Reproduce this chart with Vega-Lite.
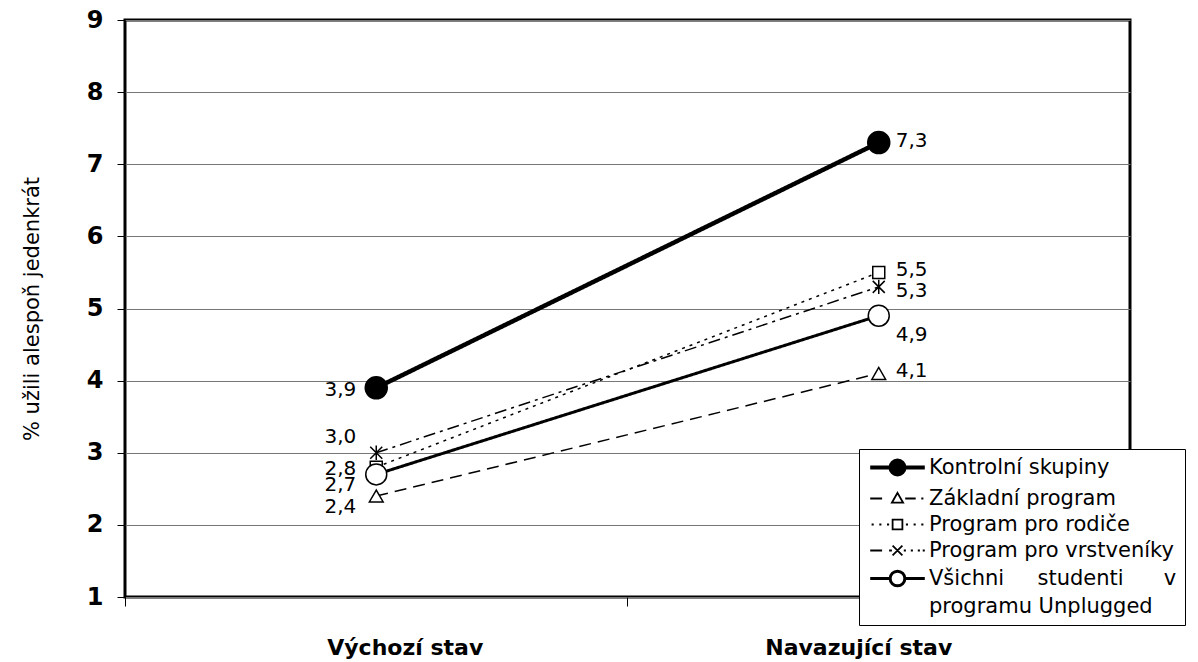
{
  "$schema": "https://vega.github.io/schema/vega-lite/v6.json",
  "width": 1005,
  "height": 577,
  "autosize": {"type": "none"},
  "padding": {"left": 125, "top": 20, "right": 68, "bottom": 65},
  "background": "white",
  "config": {
    "font": "DejaVu Sans",
    "locale": {"number": {"decimal": ",", "thousands": " ", "grouping": [3], "currency": ["", " Kč"]}},
    "view": {"stroke": "black", "strokeWidth": 3}
  },
  "data": {
    "values": [
      {"stav": "Výchozí stav", "skupina": "Kontrolní skupiny", "hodnota": 3.9},
      {"stav": "Navazující stav", "skupina": "Kontrolní skupiny", "hodnota": 7.3},
      {"stav": "Výchozí stav", "skupina": "Základní program", "hodnota": 2.4},
      {"stav": "Navazující stav", "skupina": "Základní program", "hodnota": 4.1},
      {"stav": "Výchozí stav", "skupina": "Program pro rodiče", "hodnota": 2.8},
      {"stav": "Navazující stav", "skupina": "Program pro rodiče", "hodnota": 5.5},
      {"stav": "Výchozí stav", "skupina": "Program pro vrstveníky", "hodnota": 3.0},
      {"stav": "Navazující stav", "skupina": "Program pro vrstveníky", "hodnota": 5.3},
      {"stav": "Výchozí stav", "skupina": "Všichni studenti v programu Unplugged", "hodnota": 2.7},
      {"stav": "Navazující stav", "skupina": "Všichni studenti v programu Unplugged", "hodnota": 4.9}
    ]
  },
  "encoding": {
    "x": {
      "field": "stav",
      "type": "nominal",
      "sort": ["Výchozí stav", "Navazující stav"],
      "scale": {"type": "band", "paddingInner": 0, "paddingOuter": 0},
      "axis": {
        "title": null,
        "labelAngle": 0,
        "bandPosition": 0,
        "domain": false,
        "grid": false,
        "ticks": true,
        "tickSize": 9,
        "tickColor": "black",
        "tickWidth": 1,
        "labelPadding": 31,
        "labelFontSize": 22,
        "labelFontWeight": "bold",
        "labelColor": "black",
        "labelLimit": 400,
        "labelOffset": {"condition": {"test": "datum.value == 'Výchozí stav'", "value": 29}, "value": -20}
      }
    },
    "y": {
      "field": "hodnota",
      "type": "quantitative",
      "scale": {"domain": [1, 9], "nice": false, "zero": false},
      "axis": {
        "values": [1, 2, 3, 4, 5, 6, 7, 8, 9],
        "title": "% užili alespoň jedenkrát",
        "titleFontSize": 21,
        "titleFontWeight": "normal",
        "titleColor": "black",
        "titlePadding": 44,
        "domain": false,
        "grid": true,
        "gridColor": "#777777",
        "gridWidth": 1,
        "tickSize": 8,
        "tickColor": "black",
        "tickWidth": 1,
        "labelFontSize": 24,
        "labelFontWeight": "bold",
        "labelColor": "black",
        "labelPadding": 14
      }
    }
  },
  "resolve": {"scale": {"shape": "independent"}, "legend": {"shape": "independent"}},
  "layer": [
    {
      "mark": {"type": "line", "color": "black"},
      "encoding": {
        "detail": {"field": "skupina", "type": "nominal"},
        "strokeDash": {
          "condition": [
            {"test": "datum.skupina == 'Základní program'", "value": [12, 7]},
            {"test": "datum.skupina == 'Program pro rodiče'", "value": [3, 5]},
            {"test": "datum.skupina == 'Program pro vrstveníky'", "value": [12, 5, 3, 5]}
          ],
          "value": [1, 0]
        },
        "strokeWidth": {
          "condition": [
            {"test": "datum.skupina == 'Kontrolní skupiny'", "value": 4.5},
            {"test": "datum.skupina == 'Všichni studenti v programu Unplugged'", "value": 3}
          ],
          "value": 1.5
        }
      }
    },
    {
      "mark": {"type": "point", "stroke": "black", "strokeWidth": 1.5, "opacity": 1},
      "encoding": {
        "shape": {
          "field": "skupina",
          "type": "nominal",
          "scale": {
            "domain": ["Kontrolní skupiny", "Základní program", "Program pro rodiče", "Program pro vrstveníky", "Všichni studenti v programu Unplugged"],
            "range": ["circle", "triangle-up", "square", "M-1,-1L1,1M-1,1L1,-1M0,-1.2V1.2", "circle"]
          },
          "legend": null
        },
        "fill": {
          "condition": {"test": "datum.skupina == 'Kontrolní skupiny'", "value": "black"},
          "value": "white"
        },
        "size": {
          "condition": [
            {"test": "datum.skupina == 'Kontrolní skupiny'", "value": 484},
            {"test": "datum.skupina == 'Všichni studenti v programu Unplugged'", "value": 440},
            {"test": "datum.skupina == 'Základní program'", "value": 190}
          ],
          "value": 144
        }
      }
    },
    {
      "mark": {"type": "point", "opacity": 0},
      "encoding": {
        "shape": {
          "field": "skupina",
          "type": "nominal",
          "scale": {
            "domain": ["Kontrolní skupiny", "Základní program", "Program pro rodiče", "Program pro vrstveníky", "Všichni studenti v programu Unplugged"],
            "range": [
              "M-3.9,0H3.9M-1,0A1,1,0,1,0,1,0A1,1,0,1,0,-1,0Z",
              "M-3.9,0H-2.2M1.1,0H2.6M3.4,0H3.7M0,-0.8L0.8,0.6L-0.8,0.6Z",
              "M-3.7,0H-3.4M-2.6,0H-2.3M-1.5,0H-1.2M1.2,0H1.5M2.3,0H2.6M3.4,0H3.7M-0.7,-0.7H0.7V0.7H-0.7Z",
              "M-3.9,0H-2.2M-1.2,0H-0.8M-0.7,-0.7L0.7,0.7M-0.7,0.7L0.7,-0.7M0.9,0H1.2M1.9,0H2.2M2.9,0H3.2M3.6,0H3.9",
              "M-3.9,0H-1.05M1.05,0H3.9M-1.05,0A1.05,1.05,0,1,0,1.05,0A1.05,1.05,0,1,0,-1.05,0Z"
            ]
          },
          "legend": {
            "title": null,
            "orient": "none",
            "legendX": 734,
            "legendY": 429,
            "direction": "vertical",
            "strokeColor": "black",
            "fillColor": "white",
            "padding": 8,
            "symbolSize": 196,
            "symbolOffset": 20,
            "labelOffset": 21,
            "labelFontSize": 21,
            "labelColor": "black",
            "labelLimit": 400,
            "rowPadding": 4,
            "labelExpr": "datum.label == 'Všichni studenti v programu Unplugged' ? ['Všichni\u00a0\u00a0\u00a0\u00a0\u00a0studenti\u00a0\u00a0\u00a0\u00a0\u00a0\u00a0v', 'programu Unplugged'] : datum.label",
            "encoding": {
              "labels": {
                "lineHeight": {"value": 28}
              },
              "symbols": {
                "fill": {"value": {"expr": "datum.value == 'Kontrolní skupiny' ? 'black' : 'white'"}},
                "stroke": {"value": "black"},
                "strokeWidth": {"value": {"expr": "datum.value == 'Kontrolní skupiny' ? 4 : datum.value == 'Všichni studenti v programu Unplugged' ? 3 : 1.8"}},
                "opacity": {"value": 1}
              }
            }
          }
        }
      }
    },
    {
      "transform": [{"filter": "datum.stav == 'Výchozí stav' && (datum.skupina == 'Kontrolní skupiny' || datum.skupina == 'Program pro rodiče')"}],
      "mark": {"type": "text", "align": "right", "baseline": "middle", "dx": -20, "dy": 2, "fontSize": 20, "color": "black"},
      "encoding": {"text": {"field": "hodnota", "type": "quantitative", "format": ".1f"}}
    },
    {
      "transform": [{"filter": "datum.stav == 'Výchozí stav' && datum.skupina == 'Program pro vrstveníky'"}],
      "mark": {"type": "text", "align": "right", "baseline": "middle", "dx": -20, "dy": -16, "fontSize": 20, "color": "black"},
      "encoding": {"text": {"field": "hodnota", "type": "quantitative", "format": ".1f"}}
    },
    {
      "transform": [{"filter": "datum.stav == 'Výchozí stav' && (datum.skupina == 'Základní program' || datum.skupina == 'Všichni studenti v programu Unplugged')"}],
      "mark": {"type": "text", "align": "right", "baseline": "middle", "dx": -20, "dy": 11, "fontSize": 20, "color": "black"},
      "encoding": {"text": {"field": "hodnota", "type": "quantitative", "format": ".1f"}}
    },
    {
      "transform": [{"filter": "datum.stav == 'Navazující stav' && (datum.skupina == 'Kontrolní skupiny' || datum.skupina == 'Základní program' || datum.skupina == 'Program pro rodiče')"}],
      "mark": {"type": "text", "align": "left", "baseline": "middle", "dx": 17, "dy": -2, "fontSize": 20, "color": "black"},
      "encoding": {"text": {"field": "hodnota", "type": "quantitative", "format": ".1f"}}
    },
    {
      "transform": [{"filter": "datum.stav == 'Navazující stav' && datum.skupina == 'Program pro vrstveníky'"}],
      "mark": {"type": "text", "align": "left", "baseline": "middle", "dx": 17, "dy": 4, "fontSize": 20, "color": "black"},
      "encoding": {"text": {"field": "hodnota", "type": "quantitative", "format": ".1f"}}
    },
    {
      "transform": [{"filter": "datum.stav == 'Navazující stav' && datum.skupina == 'Všichni studenti v programu Unplugged'"}],
      "mark": {"type": "text", "align": "left", "baseline": "middle", "dx": 17, "dy": 19, "fontSize": 20, "color": "black"},
      "encoding": {"text": {"field": "hodnota", "type": "quantitative", "format": ".1f"}}
    }
  ]
}
